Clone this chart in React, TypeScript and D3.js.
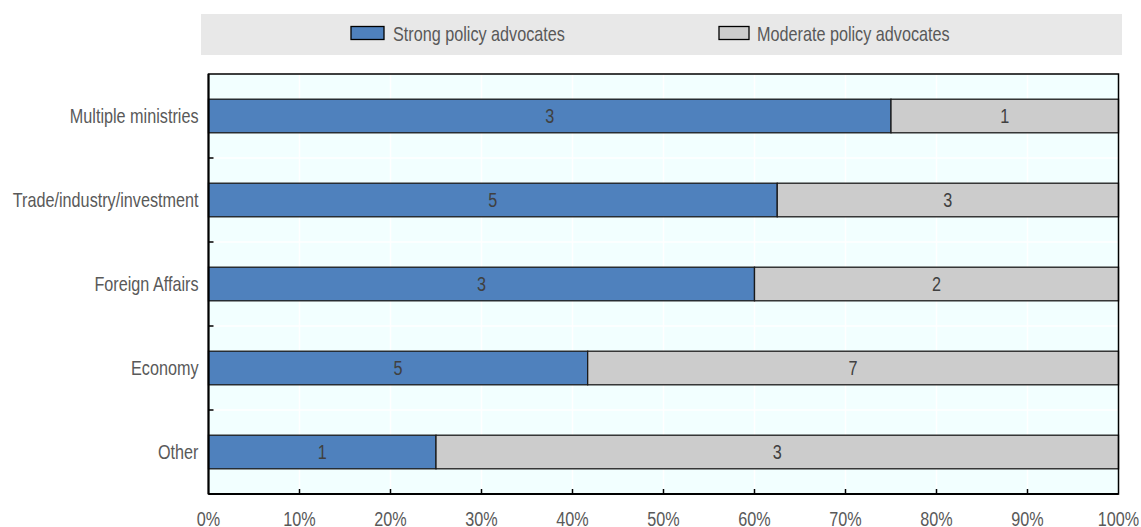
import React from "react";
import * as d3 from "d3";

// Ministries hosting policy advocates, with counts per advocate type
const categories = [
  "Multiple ministries",
  "Trade/industry/investment",
  "Foreign Affairs",
  "Economy",
  "Other",
];
const strongCounts = [3, 5, 3, 5, 1];
const moderateCounts = [1, 3, 2, 7, 3];
const seriesNames = ["Strong policy advocates", "Moderate policy advocates"];
const xTicks = [0, 0.1, 0.2, 0.3, 0.4, 0.5, 0.6, 0.7, 0.8, 0.9, 1];

const W = 1141;
const H = 527;
const FONT = "'Liberation Sans', Arial, sans-serif";
const BLUE = "#4f81bd";
const GREY = "#cccccc";
const TEXT = "#595959";
const NARROW = 0.79;
const FONT_SIZE = 20.5;

const plot = { left: 208.5, right: 1118.5, top: 74, bottom: 494 };

type LabelProps = {
  x: number;
  y: number;
  anchor?: "start" | "middle" | "end";
  size?: number;
  fill?: string;
  children: React.ReactNode;
};

// Condensed sans label: a regular sans face squeezed horizontally
function Label({ x, y, anchor = "start", size = FONT_SIZE, fill = TEXT, children }: LabelProps) {
  return (
    <text
      transform={`translate(${x},${y}) scale(${NARROW},1)`}
      dominantBaseline="central"
      textAnchor={anchor}
      fontSize={size}
      fill={fill}
    >
      {children}
    </text>
  );
}

export default function App() {
  const x = d3.scaleLinear().domain([0, 1]).range([plot.left, plot.right]);
  const y = d3
    .scaleBand<string>()
    .domain(categories)
    .range([plot.top, plot.bottom])
    .paddingInner(0.6)
    .paddingOuter(0.3);

  const rows = categories.map((c, i) => {
    const total = strongCounts[i] + moderateCounts[i];
    return {
      cat: c,
      strong: strongCounts[i],
      moderate: moderateCounts[i],
      share: strongCounts[i] / total,
    };
  });

  const step = y.step();
  const boundaries = categories.slice(1).map((c) => (y(c) as number) - (step * y.paddingInner()) / 2);
  const bandTop = (c: string) => y(c) as number;
  const bandMid = (c: string) => bandTop(c) + y.bandwidth() / 2;

  return (
    <svg
      width={W}
      height={H}
      style={{ position: "fixed", left: 0, top: 0, display: "block", background: "#fff" }}
      fontFamily={FONT}
    >
      {/* legend */}
      <rect x={201} y={14} width={921} height={41} fill="#e8e8e8" />
      <rect x={351} y={26.5} width={33} height={13} fill={BLUE} stroke="#000" strokeWidth={1.3} />
      <Label x={393} y={33.5}>{seriesNames[0]}</Label>
      <rect x={719} y={26.5} width={30} height={13} fill={GREY} stroke="#000" strokeWidth={1.3} />
      <Label x={757} y={33.5}>{seriesNames[1]}</Label>

      {/* plot background and grid */}
      <rect
        x={plot.left}
        y={plot.top}
        width={plot.right - plot.left}
        height={plot.bottom - plot.top}
        fill="#f2ffff"
      />
      {xTicks.slice(1, -1).map((t) => (
        <line key={t} x1={x(t)} x2={x(t)} y1={plot.top} y2={plot.bottom} stroke="#fff" strokeWidth={1.5} />
      ))}
      {boundaries.map((b, i) => (
        <line key={i} x1={plot.left} x2={plot.right} y1={b} y2={b} stroke="#fff" strokeWidth={1.5} />
      ))}

      {/* stacked bars */}
      {rows.map((r) => (
        <g key={r.cat}>
          <rect
            x={x(0)}
            y={bandTop(r.cat)}
            width={x(r.share) - x(0)}
            height={y.bandwidth()}
            fill={BLUE}
            stroke="#1a1a1a"
            strokeWidth={1.3}
          />
          <rect
            x={x(r.share)}
            y={bandTop(r.cat)}
            width={x(1) - x(r.share)}
            height={y.bandwidth()}
            fill={GREY}
            stroke="#1a1a1a"
            strokeWidth={1.3}
          />
          <Label x={(x(0) + x(r.share)) / 2} y={bandMid(r.cat)} anchor="middle" fill="#404040">
            {r.strong}
          </Label>
          <Label x={(x(r.share) + x(1)) / 2} y={bandMid(r.cat)} anchor="middle" fill="#404040">
            {r.moderate}
          </Label>
        </g>
      ))}

      {/* frame */}
      <rect
        x={plot.left}
        y={plot.top}
        width={plot.right - plot.left}
        height={plot.bottom - plot.top}
        fill="none"
        stroke="#000"
        strokeWidth={1.5}
      />
      <line x1={plot.left} x2={plot.left} y1={plot.top} y2={plot.bottom} stroke="#000" strokeWidth={2} />
      <line x1={plot.left} x2={plot.right} y1={plot.bottom} y2={plot.bottom} stroke="#000" strokeWidth={2} />

      {/* y axis ticks and labels */}
      {boundaries.map((b, i) => (
        <line key={i} x1={plot.left} x2={plot.left + 5} y1={b} y2={b} stroke="#000" strokeWidth={1.5} />
      ))}
      {categories.map((c) => (
        <Label key={c} x={plot.left - 10} y={bandMid(c)} anchor="end">
          {c}
        </Label>
      ))}

      {/* x axis ticks and labels */}
      {xTicks.slice(1, -1).map((t) => (
        <line key={t} x1={x(t)} x2={x(t)} y1={plot.bottom - 5} y2={plot.bottom} stroke="#000" strokeWidth={1.5} />
      ))}
      {xTicks.map((t) => (
        <Label key={t} x={x(t)} y={519} anchor="middle">
          {d3.format(".0%")(t)}
        </Label>
      ))}
    </svg>
  );
}
